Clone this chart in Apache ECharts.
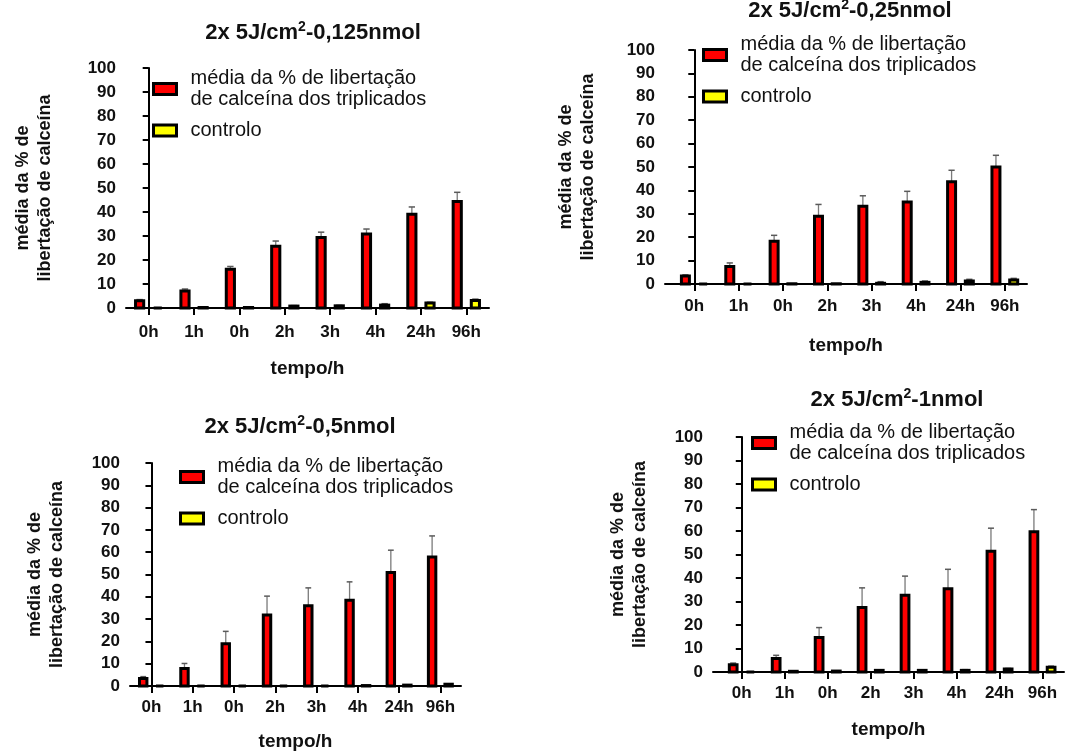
<!DOCTYPE html>
<html>
<head>
<meta charset="utf-8">
<script src="https://cdn.jsdelivr.net/npm/echarts@6/dist/echarts.min.js"></script>
<style>
html,body{margin:0;padding:0;background:#fff;}
#chart{width:1074px;height:754px;}
</style>
</head>
<body>
<div id="chart"></div>
<script>
// ---------- data ----------
const categories = ['0h', '1h', '0h', '2h', '3h', '4h', '24h', '96h'];
const yTickMin = 0, yTickMax = 100, yTickStep = 10;

const panelTitles = ['0,125nmol', '0,25nmol', '0,5nmol', '1nmol'];
const meanName = 'média da % de libertação de calceína dos triplicados';
const ctrlName = 'controlo';

const p1Mean    = [3.0, 7.1, 16.1, 25.7, 29.4, 30.8, 39.1, 44.4];
const p1MeanErr = [0.5, 0.8, 1.2, 2.2, 2.2, 2.1, 3.0, 3.8];
const p1Ctrl    = [0, 0.2, 0.2, 0.8, 0.9, 1.2, 2.1, 3.1];
const p1CtrlErr = [0, 0.1, 0.1, 0.2, 0.2, 0.6, 0.3, 0.6];

const p2Mean    = [3.4, 7.5, 18.3, 29.0, 33.2, 35.0, 43.7, 50.0];
const p2MeanErr = [0.5, 1.5, 2.5, 5.0, 4.5, 4.6, 4.9, 5.0];
const p2Ctrl    = [0, 0, 0.1, 0.1, 0.3, 0.7, 1.3, 1.7];
const p2CtrlErr = [0, 0, 0, 0, 0.7, 0.6, 0.7, 0.7];

const p3Mean    = [3.4, 7.9, 19.0, 31.8, 36.0, 38.4, 50.9, 57.9];
const p3MeanErr = [0.8, 2.2, 5.5, 8.5, 8.0, 8.3, 10.0, 9.4];
const p3Ctrl    = [0, 0, 0, 0, 0, 0.2, 0.4, 0.8];
const p3CtrlErr = [0, 0, 0, 0, 0, 0, 0.1, 0.2];

const p4Mean    = [3.1, 5.7, 14.7, 27.5, 32.7, 35.4, 51.4, 59.7];
const p4MeanErr = [0.7, 1.4, 4.2, 8.3, 8.1, 8.3, 9.8, 9.4];
const p4Ctrl    = [0, 0.3, 0.4, 0.7, 0.7, 0.7, 1.3, 2.0];
const p4CtrlErr = [0, 0, 0, 0, 0.2, 0.3, 0.2, 0.5];

const panelData = [
  [p1Mean, p1MeanErr, p1Ctrl, p1CtrlErr],
  [p2Mean, p2MeanErr, p2Ctrl, p2CtrlErr],
  [p3Mean, p3MeanErr, p3Ctrl, p3CtrlErr],
  [p4Mean, p4MeanErr, p4Ctrl, p4CtrlErr]
];

// ---------- layout (pixels) ----------
const layout = [
  {left:126, top:68,  right:489,  bottom:308, gap:0.50, titleX:308, titleY:27,  legX:147, legY:84,  yNameGap:70, xNameGap:51, lblMargin:16},
  {left:665, top:50,  right:1027, bottom:284, gap:0.66, titleX:845, titleY:5,   legX:697, legY:50,  yNameGap:66, xNameGap:52, lblMargin:14},
  {left:130, top:463, right:461,  bottom:686, gap:0.52, titleX:295, titleY:421, legX:174, legY:472, yNameGap:62, xNameGap:46, lblMargin:13},
  {left:713, top:437, right:1064, bottom:672, gap:0.67, titleX:892, titleY:394, legX:746, legY:438, yNameGap:62, xNameGap:48, lblMargin:13}
];

const FONT = '"Liberation Sans", Arial, sans-serif';
const RED = '#ff0000', YEL = '#ffff00';

function barRenderer(fill, side) {
  return function (params, api) {
    const i = api.value(0), v = api.value(1), e = api.value(2);
    const band = api.size([1, 0])[0];
    const base = api.coord([i, 0]);
    const cx = base[0] + side * band * 0.2;
    const y0 = base[1];
    const y1 = api.coord([i, v])[1];
    const w = band * 0.18;
    const children = [];
    if (e > 0) {
      const ye = api.coord([i, v + e])[1];
      const cap = band * 0.07;
      children.push({type:'line', shape:{x1:cx, y1:y1, x2:cx, y2:ye}, style:{stroke:'#7a7a7a', lineWidth:1.3}});
      children.push({type:'line', shape:{x1:cx - cap, y1:ye, x2:cx + cap, y2:ye}, style:{stroke:'#5a5a5a', lineWidth:1.5}});
    }
    children.push({type:'rect', shape:{x:cx - w / 2, y:y1, width:w, height:y0 - y1},
      style:{fill:fill, stroke:'#000', lineWidth:3}});
    return {type:'group', children:children};
  };
}

const grids = [], xAxes = [], yAxes = [], series = [], titles = [], legends = [];

layout.forEach(function (L, k) {
  grids.push({left:L.left, top:L.top, width:L.right - L.left, height:L.bottom - L.top});
  xAxes.push({
    type:'value', gridIndex:k, min:-L.gap, max:categories.length - 0.5,
    name:'tempo/h', nameLocation:'middle', nameGap:L.xNameGap,
    nameTextStyle:{fontFamily:FONT, fontWeight:'bold', fontSize:19, color:'#111'},
    splitLine:{show:false},
    axisLine:{show:true, lineStyle:{color:'#000', width:2}},
    axisTick:{show:true, length:7, lineStyle:{color:'#000', width:2},
      customValues:categories.map(function (c, i) { return i; })},
    axisLabel:{show:true, margin:L.lblMargin, fontFamily:FONT, fontWeight:'bold', fontSize:17, color:'#111',
      customValues:categories.map(function (c, i) { return i; }),
      formatter:function (v) { return categories[Math.round(v)]; }}
  });
  yAxes.push({
    type:'value', gridIndex:k, min:yTickMin, max:yTickMax, interval:yTickStep,
    name:'média da % de\nlibertação de calceína', nameLocation:'middle', nameGap:L.yNameGap, nameRotate:90,
    nameTextStyle:{fontFamily:FONT, fontWeight:'bold', fontSize:18, lineHeight:22, color:'#111'},
    splitLine:{show:false},
    axisLine:{show:true, lineStyle:{color:'#000', width:2}},
    axisTick:{show:true, length:6, lineStyle:{color:'#000', width:2}},
    axisLabel:{margin:10, fontFamily:FONT, fontWeight:'bold', fontSize:17, color:'#111'}
  });
  const d = panelData[k];
  series.push({
    type:'custom', name:meanName, xAxisIndex:k, yAxisIndex:k,
    itemStyle:{color:RED},
    renderItem:barRenderer(RED, -1),
    encode:{x:0, y:1},
    data:d[0].map(function (v, i) { return [i, v, d[1][i]]; })
  });
  series.push({
    type:'custom', name:ctrlName, xAxisIndex:k, yAxisIndex:k,
    itemStyle:{color:YEL},
    renderItem:barRenderer(YEL, 1),
    encode:{x:0, y:1},
    data:d[2].map(function (v, i) { return [i, v, d[3][i]]; })
  });
  titles.push({
    text:'{t|2x 5J/cm}{s|2}{t|-' + panelTitles[k] + '}',
    left:L.titleX, top:L.titleY - 12, textAlign:'center',
    textStyle:{rich:{
      t:{fontFamily:FONT, fontWeight:'bold', fontSize:22, lineHeight:26, color:'#111'},
      s:{fontFamily:FONT, fontWeight:'bold', fontSize:14, lineHeight:26, color:'#111', verticalAlign:'top', padding:[0,0,10,0]}
    }}
  });
  legends.push({
    orient:'vertical', left:L.legX, top:L.legY - 21, itemGap:10,
    itemWidth:23, itemHeight:11, icon:'rect', selectedMode:false,
    data:[
      {name:meanName, itemStyle:{color:RED, borderColor:'#000', borderWidth:3}},
      {name:ctrlName, itemStyle:{color:YEL, borderColor:'#000', borderWidth:3}}
    ],
    formatter:function (n) { return n === meanName ? 'média da % de libertação\nde calceína dos triplicados' : n; },
    textStyle:{fontFamily:FONT, fontSize:20, lineHeight:21, color:'#111', padding:[0,0,0,9]}
  });
});

const chart = echarts.init(document.getElementById('chart'), null, {renderer:'canvas'});
chart.setOption({
  animation:false,
  backgroundColor:'#fff',
  title:titles, legend:legends, grid:grids, xAxis:xAxes, yAxis:yAxes, series:series
});
</script>
</body>
</html>
